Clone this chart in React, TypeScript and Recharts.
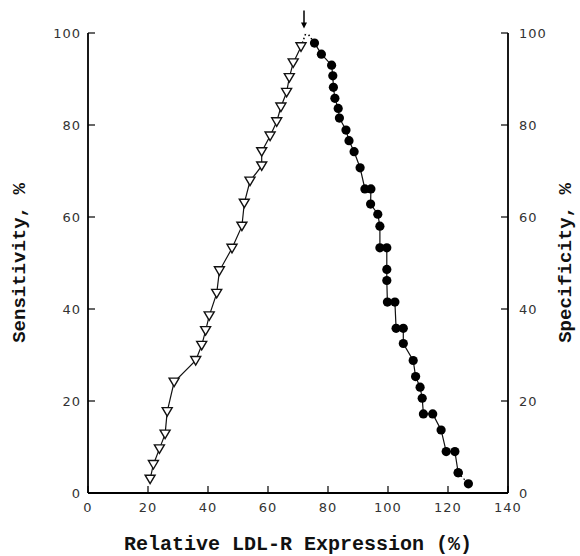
import React from 'react';
import { ScatterChart, Scatter, XAxis, YAxis, ReferenceDot, Label } from 'recharts';

// tick labels
const xTicks = [0, 20, 40, 60, 80, 100, 120, 140];
const yTicks = [0, 20, 40, 60, 80, 100];

// sensitivity (open triangles)
const sensX = [20.7, 21.8, 23.8, 25.7, 26.4, 28.7, 35.9, 37.9, 39.2, 40.4, 42.9, 43.8, 48.0, 51.3, 52.1, 54.0, 57.9, 57.9, 60.7, 62.9, 64.3, 66.2, 67.1, 68.4, 71.0];
const sensY = [3.0, 6.2, 9.6, 12.8, 17.7, 24.1, 28.8, 32.1, 35.3, 38.5, 43.4, 48.3, 53.2, 58.0, 63.0, 67.8, 71.1, 74.2, 77.6, 80.7, 83.9, 87.1, 90.3, 93.5, 97.0];

// specificity (filled circles)
const specX = [75.5, 77.8, 81.2, 81.6, 81.8, 82.3, 83.4, 83.8, 86.0, 87.0, 88.7, 90.7, 92.3, 94.3, 94.2, 96.6, 97.3, 97.3, 99.6, 99.6, 99.6, 99.8, 102.3, 102.7, 105.1, 105.1, 108.4, 109.2, 110.7, 111.4, 111.8, 114.9, 117.7, 119.4, 122.3, 123.4];
const specY = [97.8, 95.4, 93.0, 90.7, 88.2, 85.8, 83.6, 81.5, 78.9, 76.6, 74.2, 70.7, 66.1, 66.1, 62.8, 60.6, 58.0, 53.3, 53.3, 48.6, 46.2, 41.5, 41.5, 35.8, 35.8, 32.5, 28.8, 25.3, 23.0, 20.6, 17.2, 17.2, 13.7, 9.0, 9.0, 4.4];

// last circle, joined by a dotted segment
const tailX = [123.4, 126.8];
const tailY = [4.4, 2.0];

// dotted bridge across the cut-off point
const bridgeX = [71.0, 72.8, 75.5];
const bridgeY = [97.0, 100.3, 97.8];

// arrow marking the optimum cut-off
const arrowX = 72;
const arrowY = 101;

const zip = (xs: number[], ys: number[]) => xs.map((x, i) => ({ x, y: ys[i] }));

const sensData = zip(sensX, sensY);
const specData = zip(specX, specY);
const tailData = zip(tailX, tailY);
const bridgeData = zip(bridgeX, bridgeY);

const tickStyle = { fill: '#333', fontSize: 13, fontFamily: 'DejaVu Sans', letterSpacing: 1 };
const titleFont = { fontFamily: 'Liberation Mono', fontWeight: 700, fontSize: 19, fill: '#111' };

const Triangle = (props: any) => {
  const { cx, cy } = props;
  if (cx == null || cy == null) return null;
  return (
    <path
      d={`M${cx - 5},${cy - 4} L${cx + 5},${cy - 4} L${cx},${cy + 4.5} Z`}
      fill="#fff"
      stroke="#111"
      strokeWidth={1.4}
    />
  );
};

const Dot = (props: any) => {
  const { cx, cy } = props;
  if (cx == null || cy == null) return null;
  return <circle cx={cx} cy={cy} r={4.6} fill="#000" />;
};

const NoShape = () => null;

const Arrow = (props: any) => {
  const { cx, cy } = props;
  if (cx == null || cy == null) return null;
  return (
    <g>
      <line x1={cx} y1={cy - 18} x2={cx} y2={cy - 4} stroke="#000" strokeWidth={1.5} />
      <path d={`M${cx - 3},${cy - 6} L${cx + 3},${cy - 6} L${cx},${cy} Z`} fill="#000" />
    </g>
  );
};

const LeftTitle = (props: any) => {
  const vb = props.viewBox;
  const x = vb.x + 20;
  const y = vb.y + vb.height / 2;
  return (
    <text x={x} y={y} transform={`rotate(-90, ${x}, ${y})`} textAnchor="middle" dominantBaseline="central" {...titleFont}>
      Sensitivity, %
    </text>
  );
};

const RightTitle = (props: any) => {
  const vb = props.viewBox;
  const x = vb.x + 58;
  const y = vb.y + vb.height / 2;
  return (
    <text x={x} y={y} transform={`rotate(-90, ${x}, ${y})`} textAnchor="middle" dominantBaseline="central" {...titleFont}>
      Specificity, %
    </text>
  );
};

const BottomTitle = (props: any) => {
  const vb = props.viewBox;
  const x = vb.x + vb.width / 2;
  const y = vb.y + 51;
  return (
    <text x={x} y={y} textAnchor="middle" dominantBaseline="central" {...titleFont} fontSize={20}>
      Relative LDL-R Expression (%)
    </text>
  );
};

const App = () => {
  return (
    <div style={{ width: 580, height: 556, background: '#fff' }}>
      <style>{'body{margin:0}'}</style>
      <ScatterChart width={580} height={556} margin={{ top: 33, right: 0, left: 0, bottom: 0 }}>
        <XAxis
          type="number"
          dataKey="x"
          domain={[0, 140]}
          ticks={xTicks}
          height={63}
          axisLine={{ stroke: '#000', strokeWidth: 1.8 }}
          tickLine={{ stroke: '#000', strokeWidth: 1.2 }}
          tickSize={-7}
          tickMargin={17}
          tick={tickStyle}
          allowDataOverflow
          label={<Label content={BottomTitle} />}
        />
        <YAxis
          yAxisId="left"
          type="number"
          dataKey="y"
          domain={[0, 100]}
          ticks={yTicks}
          width={88}
          axisLine={{ stroke: '#000', strokeWidth: 1.8 }}
          tickLine={{ stroke: '#000', strokeWidth: 1.2 }}
          tickSize={-7}
          tickMargin={14}
          tick={tickStyle}
          allowDataOverflow
          label={<Label content={LeftTitle} />}
        />
        <YAxis
          yAxisId="right"
          orientation="right"
          type="number"
          dataKey="y"
          domain={[0, 100]}
          ticks={yTicks}
          width={72}
          axisLine={{ stroke: '#000', strokeWidth: 1.8 }}
          tickLine={{ stroke: '#000', strokeWidth: 1.2 }}
          tickSize={-7}
          tickMargin={18}
          tick={tickStyle}
          allowDataOverflow
          label={<Label content={RightTitle} />}
        />
        <Scatter
          yAxisId="left"
          data={bridgeData}
          line={{ stroke: '#000', strokeWidth: 1.5, strokeDasharray: '1.5 2.5' }}
          lineType="joint"
          shape={NoShape}
          isAnimationActive={false}
        />
        <Scatter
          yAxisId="right"
          data={tailData}
          line={{ stroke: '#000', strokeWidth: 1.2, strokeDasharray: '1.5 2.5' }}
          lineType="joint"
          shape={Dot}
          isAnimationActive={false}
        />
        <Scatter
          yAxisId="left"
          data={sensData}
          line={{ stroke: '#111', strokeWidth: 1.2 }}
          lineType="joint"
          shape={Triangle}
          isAnimationActive={false}
        />
        <Scatter
          yAxisId="right"
          data={specData}
          line={{ stroke: '#111', strokeWidth: 1.2 }}
          lineType="joint"
          shape={Dot}
          isAnimationActive={false}
        />
        <ReferenceDot
          yAxisId="left"
          x={arrowX}
          y={arrowY}
          ifOverflow="visible"
          shape={Arrow}
        />
      </ScatterChart>
    </div>
  );
};

export default App;
